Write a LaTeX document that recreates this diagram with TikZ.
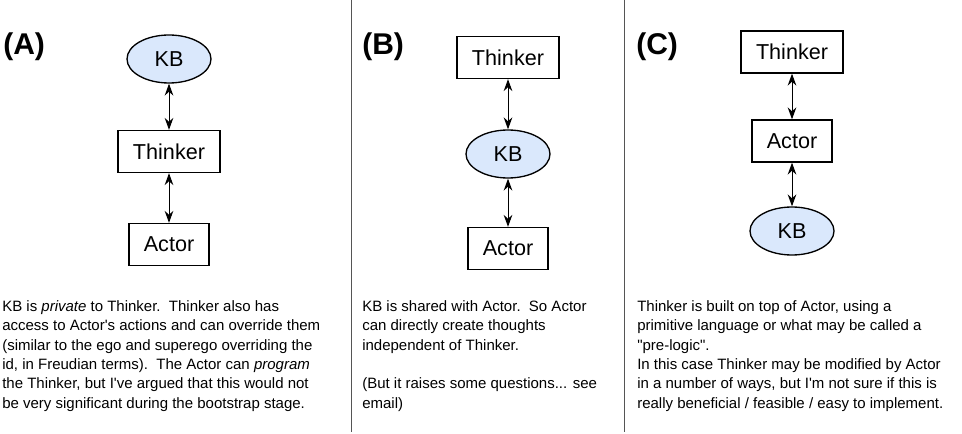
\documentclass[tikz,border=0pt]{standalone}
\usepackage{fontspec}
\newfontfamily\arialfont{Liberation Sans}
\usetikzlibrary{arrows.meta,shapes.geometric}
\definecolor{kbblue}{RGB}{218,232,252}
\definecolor{rulegray}{RGB}{85,85,85}

\begin{document}
\begin{tikzpicture}[x=0.75pt,y=-0.75pt,>={Stealth[length=9pt,width=6.5pt,inset=3pt]},
    box/.style={draw,line width=1pt,font=\arialfont\fontsize{16.2}{19}\selectfont,
        minimum height=31.5pt,inner xsep=11.2pt,inner ysep=0pt},
    kb/.style={draw,ellipse,fill=kbblue,line width=1pt,font=\arialfont\fontsize{16.2}{19}\selectfont,
        minimum width=63pt,minimum height=36pt,inner sep=0pt},
    tag/.style={font=\arialfont\bfseries\fontsize{22.5}{26}\selectfont,anchor=base west,inner sep=0pt},
    note/.style={font=\arialfont\fontsize{11.25}{14.5}\selectfont,align=left,anchor=north west,inner sep=0pt},
    link/.style={<->,line width=0.7pt}]
        \useasboundingbox (0,0) rectangle (962,434);

        % dividing rules
        \draw[rulegray,line width=0.8pt] (351.5,0) -- (351.5,432);
        \draw[rulegray,line width=0.8pt] (624.5,0) -- (624.5,432);

        % (A)
        \node[tag] (tagA) at (3,55) {(A)};
        \node[kb] (kbA) at (169,59) {KB};
        \node[box] (thinkerA) at (169,151.5) {Thinker};
        \node[box] (actorA) at (169,244.5) {Actor};
        \draw[link] (kbA) -- (thinkerA);
        \draw[link] (thinkerA) -- (actorA);
        \node[note] (noteA) at (2,300.5) {KB is \textit{private} to Thinker.\ \ Thinker also has\\
            access to Actor's actions and can override them\\
            (similar to the ego and superego overriding the\\
            id, in Freudian terms).\ \ The Actor can \textit{program}\\
            the Thinker, but I've argued that this would not\\
            be very significant during the bootstrap stage.};

        % (B)
        \node[tag] (tagB) at (362,55) {(B)};
        \node[box] (thinkerB) at (508,57.5) {Thinker};
        \node[kb] (kbB) at (508,154) {KB};
        \node[box] (actorB) at (508,248.5) {Actor};
        \draw[link] (thinkerB) -- (kbB);
        \draw[link] (kbB) -- (actorB);
        \node[note] (noteB) at (362,300.5) {KB is shared with Actor.\ \ So Actor\\
            can directly create thoughts\\
            independent of Thinker.\\[14.5pt]
            (But it raises some questions... see\\
            email)};

        % (C)
        \node[tag] (tagC) at (636,55) {(C)};
        \node[box] (thinkerC) at (792,52) {Thinker};
        \node[box] (actorC) at (792,141) {Actor};
        \node[kb] (kbC) at (792,231) {KB};
        \draw[link] (thinkerC) -- (actorC);
        \draw[link] (actorC) -- (kbC);
        \node[note] (noteC) at (637,300.5) {Thinker is built on top of Actor, using a\\
            primitive language or what may be called a\\
            "pre-logic".\\
            In this case Thinker may be modified by Actor\\
            in a number of ways, but I'm not sure if this is\\
            really beneficial / feasible / easy to implement.};
\end{tikzpicture}
\end{document}
